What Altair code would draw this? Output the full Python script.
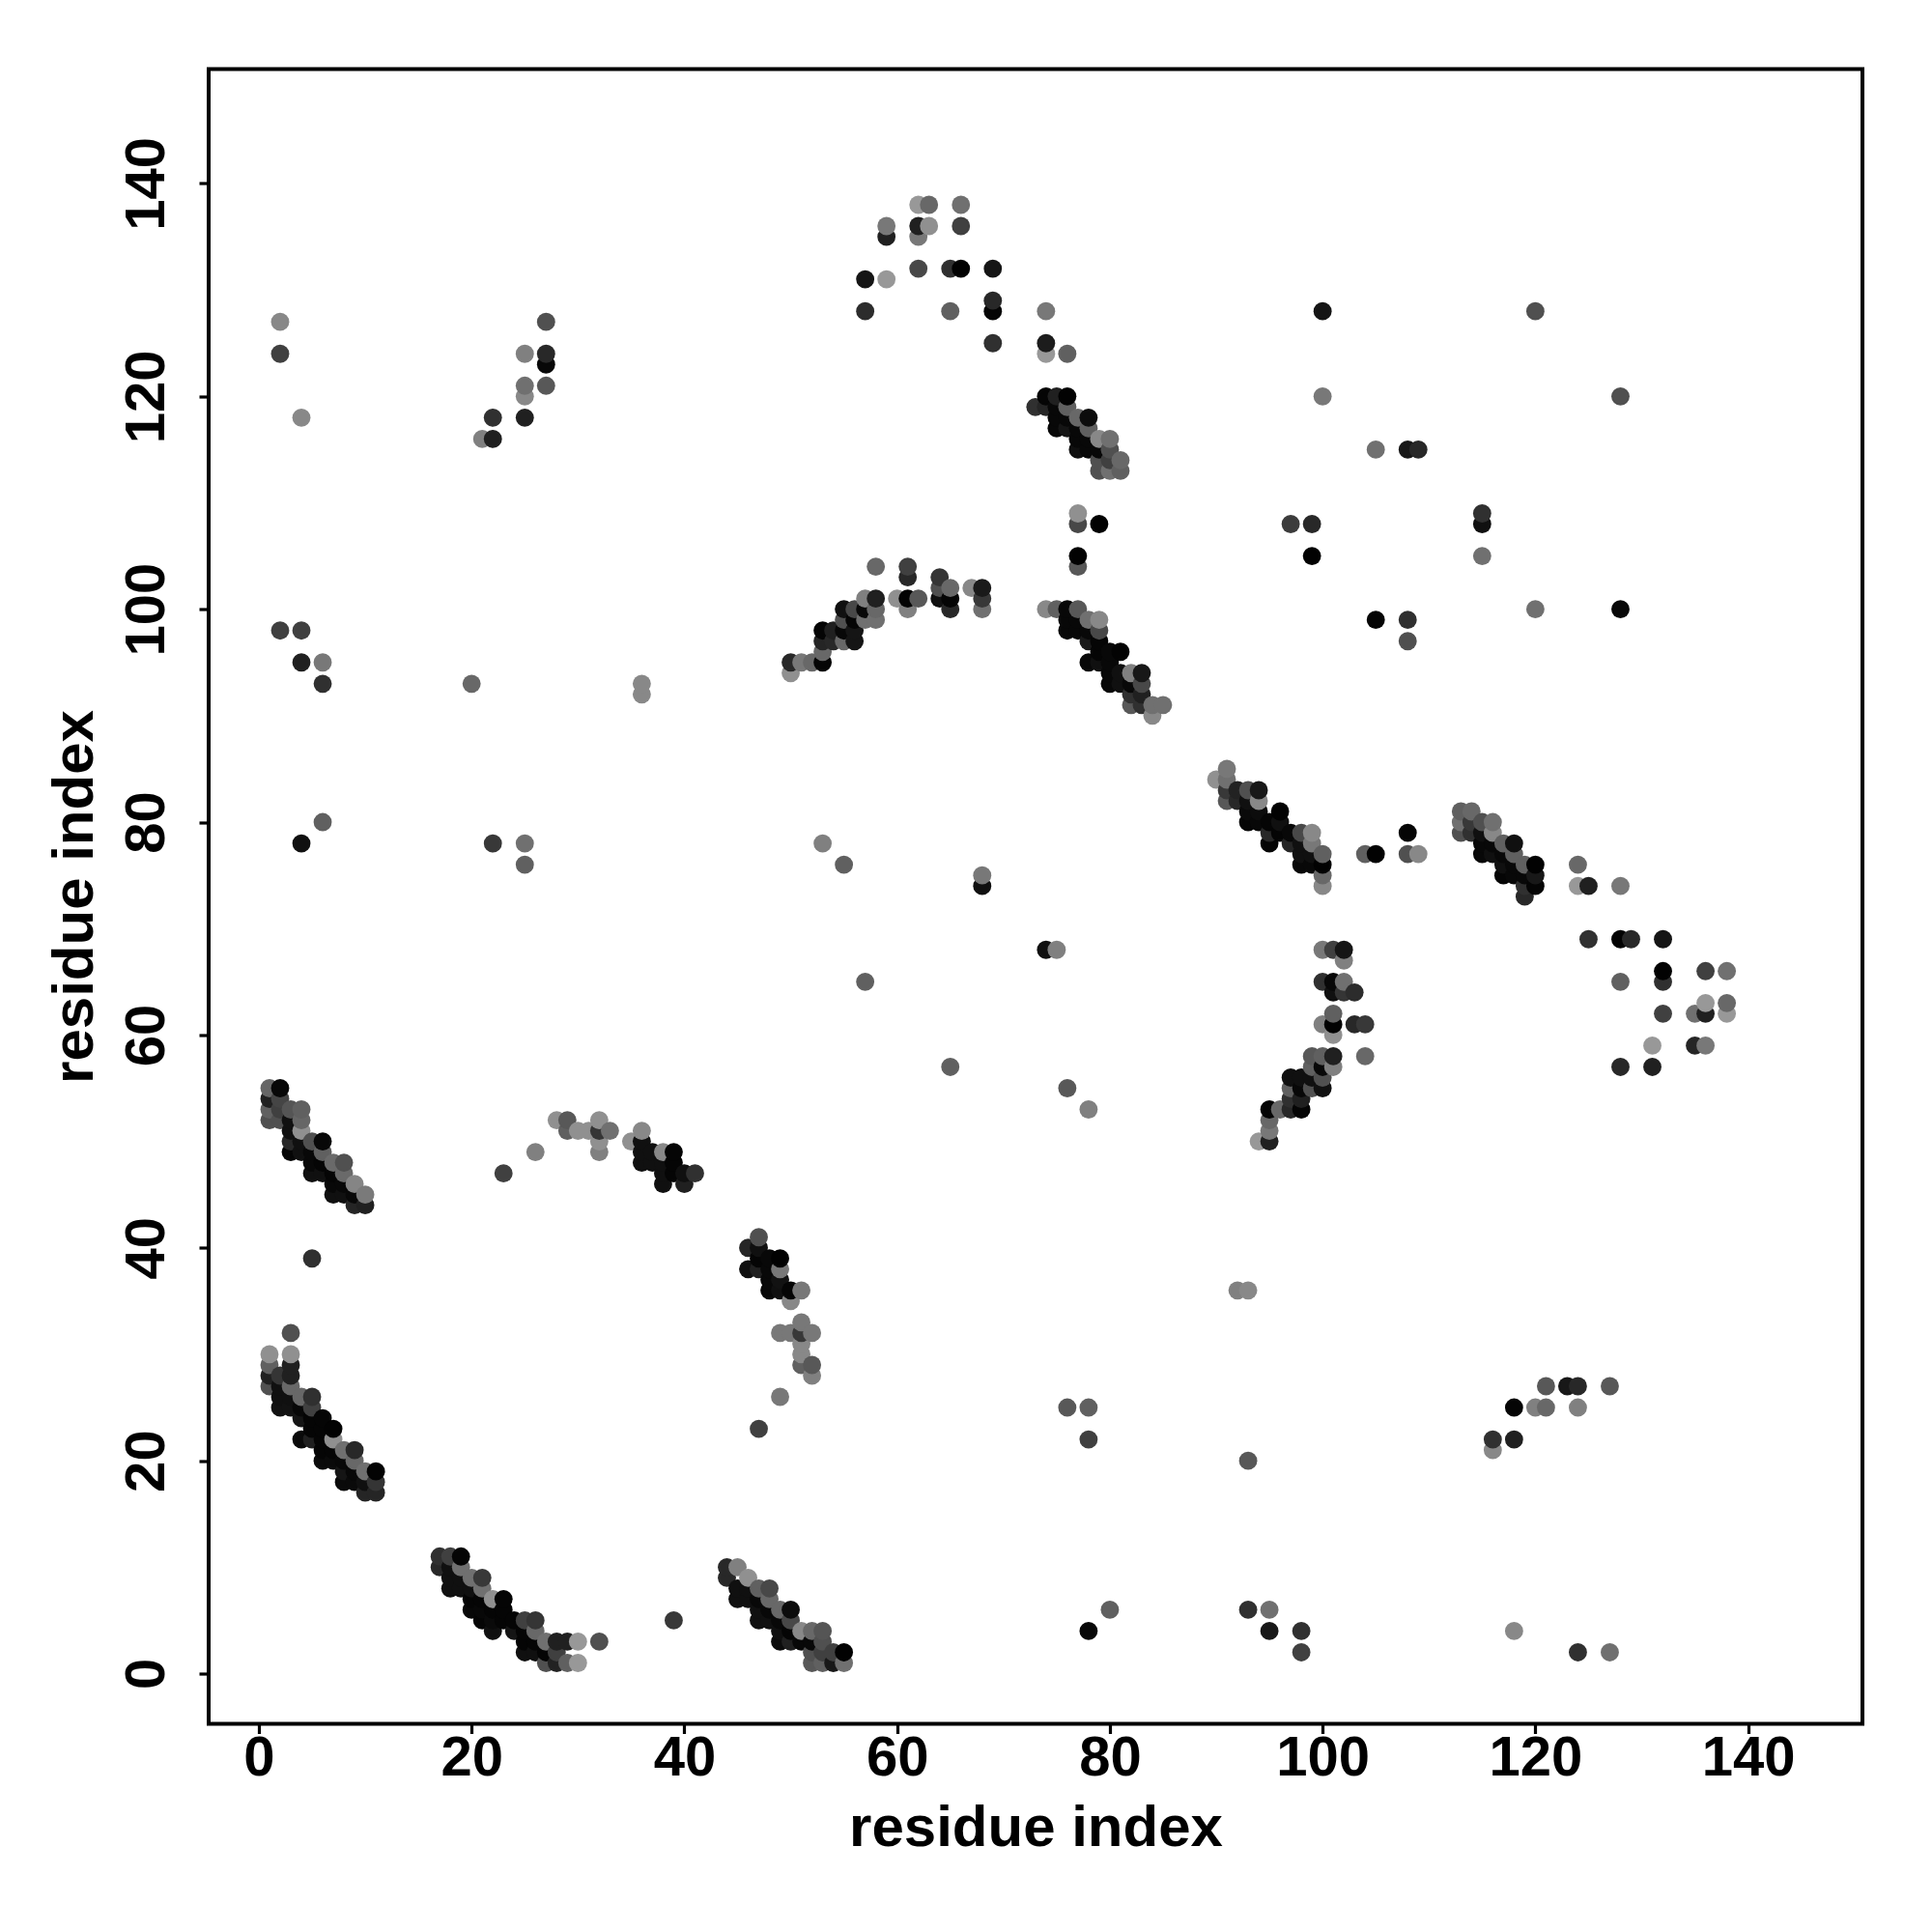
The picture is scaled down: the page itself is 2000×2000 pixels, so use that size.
import altair as alt
import pandas as pd

# Each entry: residue i, residue j, grey level
band_a = [(1,55,0x66),(2,55,0x08),(1,54,0x20),(2,54,0x45),(1,53,0x60),(2,53,0x40),(1,52,0x50),(2,52,0x50),(3,53,0x55),(4,53,0x60),(3,52,0x10),(4,52,0x66),(3,51,0x10),(4,51,0x90),(3,50,0x28),(4,50,0x10),(3,49,0x05),(4,49,0x10),(5,49,0x08),(5,50,0x50),(6,50,0x08),(6,49,0x60),(5,48,0x08),(6,48,0x05),(7,48,0x6a),(8,48,0x50),(5,47,0x10),(6,47,0x10),(7,47,0x05),(8,47,0x6a),(7,46,0x08),(8,46,0x08),(9,46,0x85),(7,45,0x10),(8,45,0x10),(9,45,0x08),(10,45,0x7a),(9,44,0x25),(10,44,0x20),(5,39,0x30)]
band_b = [(1,30,0x90),(3,30,0x90),(3,32,0x50),(1,29,0x60),(1,28,0x20),(2,28,0x35),(3,29,0x20),(3,28,0x20),(1,27,0x50),(2,27,0x10),(3,27,0x68),(2,26,0x10),(2,25,0x12),(3,26,0x10),(3,25,0x12),(4,26,0x68),(5,26,0x30),(5,25,0x40),(4,25,0x08),(4,24,0x15),(5,24,0x05),(6,24,0x05),(5,23,0x05),(6,23,0x05),(7,23,0x03),(4,22,0x0a),(5,22,0x20),(6,22,0x05),(7,22,0x90),(8,21,0x70),(9,21,0x28),(6,21,0x05),(7,21,0x05),(6,20,0x0a),(7,20,0x0a),(8,20,0x08),(9,20,0x68),(8,19,0x15),(9,19,0x08),(10,19,0x70),(11,19,0x03),(8,18,0x0a),(9,18,0x0a),(10,18,0x10),(11,18,0x35),(10,17,0x25),(11,17,0x25)]
band_f = [(17,11,0x30),(18,11,0x40),(19,11,0x05),(17,10,0x28),(18,10,0x10),(19,10,0x70),(18,9,0x10),(19,9,0x10),(20,9,0x70),(21,9,0x38),(18,8,0x10),(19,8,0x10),(20,8,0x10),(21,8,0x70),(20,7,0x05),(21,7,0x05),(22,7,0x90),(23,7,0x05),(20,6,0x08),(21,6,0x08),(22,6,0x05),(23,6,0x05),(21,5,0x05),(22,5,0x0a),(23,5,0x05),(24,5,0x05),(25,5,0x40),(26,5,0x35),(22,4,0x10),(24,4,0x15),(25,4,0x05),(26,4,0x68),(25,3,0x05),(26,3,0x05),(27,3,0x70),(28,3,0x20),(29,3,0x20),(30,3,0x98),(32,3,0x50),(25,2,0x10),(26,2,0x10),(27,2,0x05),(28,2,0x40),(27,1,0x50),(28,1,0x22),(29,1,0x60),(30,1,0x98),(39,5,0x38)]
band_g = [(44,10,0x28),(44,9,0x28),(45,10,0x80),(46,9,0x90),(45,8,0x10),(45,7,0x10),(46,8,0x10),(46,7,0x10),(47,8,0x60),(48,8,0x48),(47,7,0x08),(48,7,0x68),(47,6,0x10),(47,5,0x10),(48,6,0x08),(48,5,0x10),(49,6,0x68),(50,6,0x0c),(49,5,0x08),(50,5,0x48),(49,4,0x10),(49,3,0x0c),(50,4,0x05),(50,3,0x20),(51,4,0x88),(52,4,0x68),(53,4,0x55),(51,3,0x08),(52,3,0x08),(53,3,0x50),(52,2,0x50),(53,2,0x40),(54,2,0x40),(55,2,0x02),(52,1,0x58),(53,1,0x60),(54,1,0x18),(55,1,0x70)]
band_h = [(23,47,0x40),(26,49,0x80),(28,52,0x90),(29,52,0x58),(29,51,0x60),(30,51,0x90),(31,51,0x90),(32,52,0x90),(32,51,0x35),(33,51,0x70),(32,50,0x90),(32,49,0x80),(35,50,0x90),(36,51,0x88),(36,50,0x10),(36,49,0x10),(36,48,0x10),(37,49,0x10),(37,48,0x10),(38,49,0x88),(38,48,0x10),(38,47,0x10),(38,46,0x10),(39,49,0x05),(39,48,0x05),(39,47,0x05),(40,47,0x10),(40,46,0x20),(41,47,0x30)]
band_d = [(47,41,0x50),(46,40,0x25),(47,40,0x10),(46,38,0x10),(47,38,0x20),(47,39,0x05),(48,39,0x08),(49,39,0x02),(48,38,0x08),(49,38,0x78),(48,37,0x08),(48,36,0x08),(49,37,0x12),(49,36,0x10),(50,36,0x05),(51,36,0x78),(50,35,0x88),(51,33,0x78),(49,32,0x78),(50,32,0x78),(51,32,0x38),(52,32,0x78),(51,31,0x88),(51,30,0x88),(51,29,0x60),(52,29,0x58),(52,28,0x80),(49,26,0x78),(47,23,0x40)]
band_top = [(62,138,0x98),(63,138,0x68),(66,138,0x70),(59,136,0x78),(59,135,0x20),(62,136,0x20),(63,136,0x90),(62,135,0x78),(66,136,0x40),(62,132,0x48),(65,132,0x30),(66,132,0x02),(69,132,0x15),(57,131,0x15),(59,131,0x98),(69,129,0x28),(69,128,0x05),(57,128,0x2c),(65,128,0x60),(69,125,0x30),(74,128,0x78),(74,125,0x1c),(74,124,0x98),(76,124,0x60)]
band_i = [(73,119,0x30),(74,120,0x05),(75,120,0x20),(76,120,0x02),(74,119,0x25),(75,119,0x08),(76,119,0x60),(75,118,0x08),(76,118,0x08),(77,118,0x68),(78,118,0x0c),(75,117,0x08),(76,117,0x15),(77,117,0x08),(78,117,0x60),(77,116,0x08),(78,116,0x08),(79,116,0x88),(80,116,0x70),(77,115,0x10),(78,115,0x08),(79,115,0x08),(80,115,0x50),(79,114,0x50),(80,114,0x40),(81,114,0x68),(79,113,0x50),(80,113,0x70),(81,113,0x60)]
band_j = [(74,100,0x88),(75,100,0x60),(76,100,0x08),(77,100,0x58),(78,99,0x70),(79,99,0x88),(76,99,0x08),(77,99,0x08),(76,98,0x08),(77,98,0x08),(78,98,0x08),(79,98,0x48),(78,97,0x1a),(79,97,0x05),(79,96,0x05),(80,96,0x08),(81,96,0x03),(78,95,0x08),(79,95,0x10),(80,95,0x08),(80,94,0x08),(81,94,0x10),(82,94,0x80),(83,94,0x18),(80,93,0x08),(81,93,0x10),(82,93,0x08),(83,93,0x48),(82,92,0x30),(83,92,0x20),(82,91,0x58),(83,91,0x30),(84,91,0x70),(85,91,0x70),(84,90,0x88)]
band_k = [(91,85,0x78),(90,84,0x90),(91,84,0x70),(91,83,0x38),(92,83,0x22),(93,83,0x50),(94,83,0x18),(91,82,0x58),(92,82,0x28),(93,82,0x10),(94,82,0x88),(93,81,0x0a),(94,81,0x0c),(93,80,0x05),(94,80,0x08),(95,80,0x05),(96,81,0x02),(96,80,0x10),(95,79,0x28),(96,79,0x05),(97,79,0x08),(98,79,0x48),(99,79,0x88),(95,78,0x05),(97,78,0x25),(98,78,0x10),(99,78,0x78),(98,77,0x10),(99,77,0x10),(100,77,0x60),(98,76,0x08),(99,76,0x08),(100,76,0x02),(100,75,0x68),(100,74,0x88),(104,77,0x60),(105,77,0x02),(108,79,0x05),(108,77,0x50),(109,77,0x88)]
band_l = [(113,81,0x60),(114,81,0x68),(113,80,0x70),(114,80,0x38),(115,80,0x50),(116,80,0x70),(113,79,0x50),(114,79,0x30),(115,79,0x10),(116,79,0x88),(115,78,0x08),(116,78,0x08),(117,78,0x60),(118,78,0x10),(115,77,0x08),(116,77,0x10),(117,77,0x08),(118,77,0x60),(117,76,0x10),(118,76,0x08),(119,76,0x60),(120,76,0x02),(117,75,0x05),(118,75,0x08),(119,75,0x08),(120,75,0x18),(119,74,0x30),(120,74,0x05),(119,73,0x28)]
band_m = [(124,76,0x68),(124,74,0x98),(125,74,0x20),(128,74,0x78),(125,69,0x30),(128,69,0x02),(129,69,0x28),(132,69,0x15),(132,66,0x02),(132,65,0x30),(128,65,0x60),(136,66,0x40),(138,66,0x70),(132,62,0x40),(135,62,0x70),(136,63,0x98),(136,62,0x20),(138,63,0x68),(138,62,0x98),(131,59,0x98),(135,59,0x25),(136,59,0x78),(128,57,0x28),(131,57,0x20)]
band_c = [(100,68,0x78),(101,68,0x40),(102,68,0x15),(102,67,0x80),(100,65,0x30),(101,65,0x08),(102,65,0x70),(101,64,0x10),(102,64,0x35),(103,64,0x2c),(101,62,0x60),(100,61,0x80),(101,61,0x02),(103,61,0x28),(104,61,0x38),(101,60,0x90),(99,58,0x58),(100,58,0x60),(101,58,0x20),(104,58,0x68),(99,57,0x60),(100,57,0x08),(101,57,0x80),(97,56,0x10),(98,56,0x10),(99,56,0x10),(100,56,0x50),(97,55,0x60),(98,55,0x08),(99,55,0x50),(100,55,0x10),(97,54,0x30),(98,54,0x20),(97,53,0x28),(98,53,0x05),(95,53,0x05),(96,53,0x68),(95,52,0x68),(95,51,0x78),(94,50,0x98),(95,50,0x20)]
band_b2 = [(58,104,0x68),(61,104,0x40),(61,103,0x28),(64,103,0x35),(64,102,0x50),(65,102,0x68),(64,101,0x10),(65,101,0x05),(65,100,0x28),(67,102,0x88),(68,102,0x1a),(68,101,0x38),(68,100,0x70),(60,101,0x90),(61,101,0x03),(62,101,0x58),(61,100,0x80),(57,101,0x80),(58,101,0x20),(55,100,0x10),(56,100,0x48),(57,100,0x08),(58,100,0x68),(57,99,0x70),(58,99,0x70),(55,99,0x50),(56,99,0x05),(53,98,0x05),(54,98,0x20),(55,98,0x08),(56,98,0x15),(53,97,0x25),(54,97,0x28),(55,97,0x68),(56,97,0x15),(53,96,0x68),(53,95,0x05),(50,95,0x28),(51,95,0x78),(52,95,0x68),(50,94,0x90)]
scattered_left = [(2,127,0x88),(2,124,0x40),(4,118,0x88),(21,116,0x80),(22,116,0x20),(22,118,0x30),(25,118,0x20),(25,120,0x88),(25,121,0x70),(25,124,0x80),(27,121,0x58),(27,123,0x08),(27,124,0x28),(27,127,0x50),(2,98,0x40),(4,98,0x40),(4,95,0x20),(6,95,0x78),(6,93,0x30),(20,93,0x68),(36,93,0x88),(36,92,0x88),(4,78,0x10),(6,80,0x60),(22,78,0x38),(25,78,0x70),(25,76,0x60)]
scattered_mid = [(53,78,0x80),(55,76,0x60),(57,65,0x60),(65,57,0x60),(68,75,0x78),(68,74,0x10),(74,68,0x10),(75,68,0x80),(76,55,0x58),(78,53,0x80),(92,36,0x80),(93,36,0x88),(76,25,0x58),(78,25,0x60),(78,22,0x40),(93,20,0x58),(78,4,0x08),(80,6,0x60),(93,6,0x30),(95,6,0x70),(95,4,0x18),(98,4,0x30),(98,2,0x40),(77,109,0x90),(77,108,0x48),(79,108,0x02),(77,105,0x02),(77,104,0x58)]
scattered_right = [(118,4,0x88),(124,2,0x30),(127,2,0x70),(116,22,0x30),(116,21,0x88),(118,22,0x20),(118,25,0x05),(120,25,0x80),(121,25,0x68),(121,27,0x58),(123,27,0x18),(124,27,0x28),(124,25,0x80),(127,27,0x58),(120,128,0x50),(128,120,0x50),(120,100,0x70),(128,100,0x08),(105,99,0x05),(108,99,0x30),(108,97,0x50),(115,109,0x30),(115,108,0x10),(115,105,0x70),(100,128,0x15),(100,120,0x78),(105,115,0x70),(108,115,0x18),(109,115,0x28),(97,108,0x3c),(99,108,0x28),(99,105,0x02)]

all_points = (band_a + band_b + band_f + band_g + band_h + band_d + band_top + band_i + band_j
              + band_k + band_l + band_m + band_c + band_b2 + scattered_left + scattered_mid + scattered_right)
all_points = sorted(all_points, key=lambda p: (p[0], p[1]))

df = pd.DataFrame(all_points, columns=["i", "j", "g"])
df["shade"] = df["g"].map(lambda v: f"#{v:02x}{v:02x}{v:02x}")

ticks = [0, 20, 40, 60, 80, 100, 120, 140]
domain = [-4.72, 150.75]
FONT = "Liberation Sans"

def axis(**kw):
    return alt.Axis(values=ticks, grid=False, domain=False, ticks=True, tickColor="black", tickWidth=3.2,
                    tickSize=10, labelFont=FONT, labelFontWeight="bold", labelFontSize=58, labelColor="black",
                    titleFont=FONT, titleFontWeight="bold", titleFontSize=60, titleColor="black",
                    labelOverlap=False, labelFlush=False, **kw)

chart = (
    alt.Chart(df)
    .mark_circle(size=355, opacity=1, strokeWidth=0)
    .encode(
        x=alt.X("i:Q", scale=alt.Scale(domain=domain, nice=False, zero=False),
                axis=axis(title="residue index", labelPadding=-3, titlePadding=14)),
        y=alt.Y("j:Q", scale=alt.Scale(domain=domain, nice=False, zero=False),
                axis=axis(title="residue index", labelAngle=270, labelAlign="center", labelBaseline="bottom",
                          labelPadding=25, titlePadding=15)),
        color=alt.Color("shade:N", scale=None),
    )
    .properties(width=1712, height=1713, background="white",
                padding={"left": 208, "top": 63.5, "right": 50, "bottom": 190},
                autosize=alt.AutoSizeParams(type="none"))
    .configure_view(stroke="black", strokeWidth=4, fill="white")
)

chart.save("out.html", embed_options={"renderer": "svg", "actions": False})
